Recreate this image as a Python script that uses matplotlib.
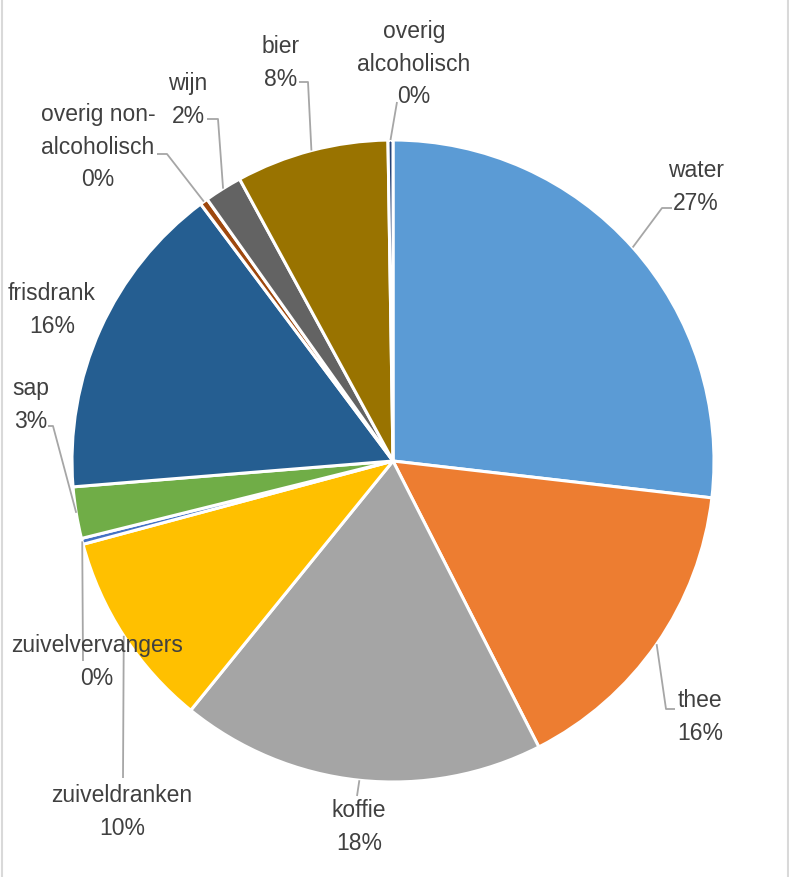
import numpy as np
import matplotlib.pyplot as plt
from matplotlib.lines import Line2D

W, H = 789, 878

categories = ["water", "thee", "koffie", "zuiveldranken", "zuivelvervangers", "sap",
              "frisdrank", "overig non-\nalcoholisch", "wijn", "bier", "overig\nalcoholisch"]
shares = [26.9, 15.7, 18.4, 10.0, 0.3, 2.6, 16.1, 0.4, 1.9, 7.7, 0.25]
colors = ["#5B9BD5", "#ED7D31", "#A5A5A5", "#FFC000", "#4472C4", "#70AD47",
          "#255E91", "#9E480E", "#636363", "#997300", "#264478"]

# label layout in pixel coords (x, y from top), and leader-line elbows
label_pos = [(696, 187), (700, 717), (359, 827), (122, 812), (97, 662), (31, 405),
             (52, 310), (98, 147), (188, 100), (281, 63), (414, 64)]
leaders = [[(662, 209), (672, 209)], [(666, 710), (675, 710)], [(357, 797)],
           [(123, 779)], [(83, 662)], [(53, 427), (48, 427)], None,
           [(167, 155), (157, 155)], [(218, 120), (207, 120)],
           [(308, 83), (299, 83)], [(397, 103)]]

cx, cy, r = 393, 462, 321

plt.rcParams["font.family"] = ["Liberation Sans", "DejaVu Sans"]
fig = plt.figure(figsize=(W / 100, H / 100), dpi=100)
ax = fig.add_axes([0, 0, 1, 1])
ax.set_xlim(0, W)
ax.set_ylim(0, H)
ax.axis("off")

wedges, _ = ax.pie(shares, colors=colors, startangle=90, counterclock=False,
                   center=(cx, H - cy), radius=r,
                   wedgeprops=dict(edgecolor="white", linewidth=2.2))
ax.set_xlim(0, W)
ax.set_ylim(0, H)
ax.set_aspect("equal", adjustable="box")

total = sum(shares)
for w, name, val, (lx, ly), pts in zip(wedges, categories, shares, label_pos, leaders):
    if pts:
        mid = np.deg2rad((w.theta1 + w.theta2) / 2)
        x0 = cx + r * np.cos(mid)
        y0 = (H - cy) + r * np.sin(mid)
        xs = [x0] + [p[0] for p in pts]
        ys = [y0] + [H - p[1] for p in pts]
        ax.plot(xs, ys, color="#A6A6A6", lw=1.3, solid_capstyle="butt", zorder=3)
    ax.text(lx, H - ly, f"{name}\n{val / total * 100:.0f}%", ha="center", va="center",
            ma="center", fontsize=16.5, color="#404040", linespacing=1.52, zorder=4)

for x in (1.5, 787.5):
    fig.add_artist(Line2D([x / W, x / W], [0, 1], color="#D9D9D9", lw=1.5))

fig.savefig("out.png", dpi=100)
